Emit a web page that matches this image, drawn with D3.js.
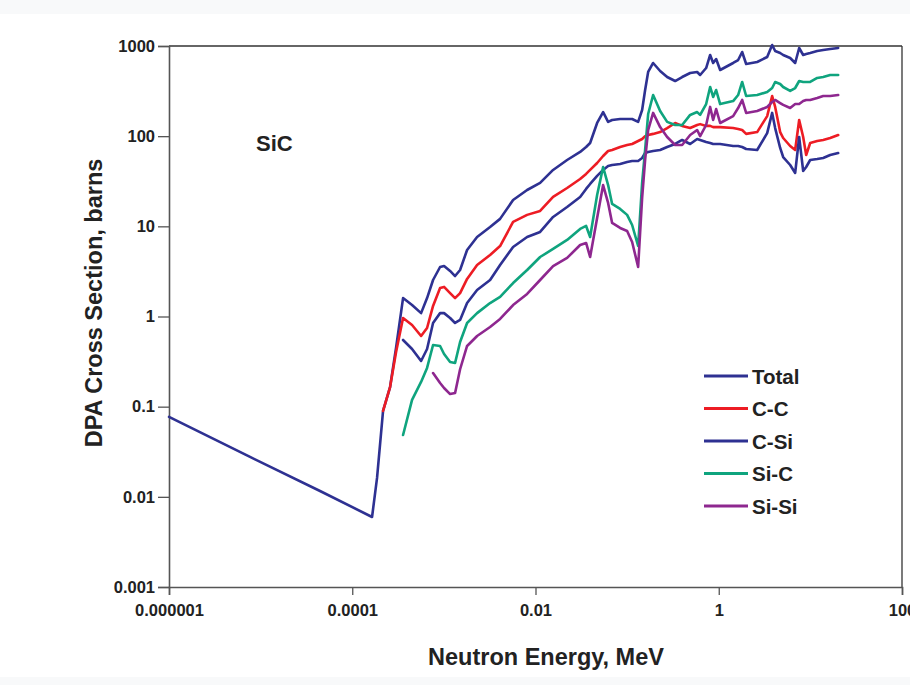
<!DOCTYPE html>
<html>
<head>
<meta charset="utf-8">
<script src="https://cdn.jsdelivr.net/npm/d3@7"></script>
<style>
  body { margin: 0; background: #fff; }
  svg { display: block; font-family: "Liberation Sans", Arial, sans-serif; }
</style>
</head>
<body>
<div id="chart"></div>
<script>
// neutron energy grid, MeV
const energy = [1e-6, 7.66e-6, 4.45e-5, 1.645e-4, 1.865e-4, 2.169e-4, 2.587e-4, 3.008e-4, 3.585e-4,
  4.495e-4, 5.64e-4, 6.555e-4, 7.62e-4, 9.09e-4, 1.005e-3, 1.169e-3, 1.325e-3, 1.503e-3,
  1.792e-3, 2.304e-3, 3.195e-3, 4.107e-3, 5.695e-3, 8.1e-3,
  0.01123, 0.01556, 0.02213, 0.0307, 0.03567, 0.03946,
  0.04705, 0.0547, 0.062, 0.06859, 0.0839, 0.1,
  0.1134, 0.1319, 0.1458, 0.1572, 0.1696, 0.1922,
  0.2292, 0.2734, 0.3342, 0.3986, 0.4874, 0.5811,
  0.6264, 0.7286, 0.8055, 0.8688, 0.9367, 1.036,
  1.436, 1.628, 1.801, 1.991, 2.626, 3.376,
  3.828, 4.127, 4.68, 5.048, 6.018, 6.826,
  7.546, 8.345, 9.0, 9.95, 11.87, 13.8, 16.45, 20.11];

// DPA cross sections, barns
const total = [0.0769, 0.0277, 0.0116, 0.00598, 0.0162, 0.0896, 0.165, 0.45, 1.60,
  1.34, 1.09, 1.60, 2.54, 3.54, 3.63, 3.20, 2.81, 3.28,
  5.47, 7.62, 9.83, 12.1, 19.6, 25.3,
  30.3, 42.2, 54.4, 66.8, 75.9, 84.0,
  140, 185, 144, 151, 155, 155,
  155, 144, 195, 325, 515, 648,
  528, 453, 409, 453, 502, 515,
  477, 570, 795, 648, 717, 542,
  648, 699, 858, 632, 665, 755,
  1026, 880, 836, 795, 736, 648,
  950, 795, 815, 836, 880, 903, 926, 950];

const cc = [null, null, null, null, null, 0.0896, 0.165, 0.404, 0.963,
  0.805, 0.608, 0.746, 1.31, 2.07, 2.13, 1.82, 1.60, 1.82,
  2.61, 3.73, 4.81, 6.05, 11.2, 13.4,
  14.8, 21.2, 26.6, 33.5, 38.1, 42.2,
  50.4, 60.3, 68.5, 70.3, 75.9, 79.8,
  81.9, 88.4, 93.0, 100, 103, 106,
  111, 123, 140, 130, 123, 133,
  136, 130, 130, 126, 126, 126,
  123, 120, 117, 106, 111, 167,
  279, 211, 111, 95.4, 77.8, 70.3,
  151, 97.9, 61.8, 84.0, 88.4, 90.7, 95.4, 103];

const csi = [null, null, null, null, null, null, null, null, 0.549,
  0.436, 0.321, 0.436, 0.848, 1.09, 1.09, 0.963, 0.848, 0.915,
  1.41, 1.97, 2.54, 3.73, 5.90, 7.62,
  8.66, 12.7, 16.4, 21.2, 26.0, 29.5,
  36.2, 42.2, 46.7, 47.9, 49.1, 51.7,
  53.1, 53.1, 57.3, 65.1, 66.8, 68.5,
  70.3, 75.9, 81.9, 90.7, 81.9, 93.0,
  90.7, 86.2, 84.0, 81.9, 81.9, 81.9,
  77.8, 77.8, 75.9, 72.1, 70.3, 108,
  181, 123, 74.0, 58.7, 47.9, 39.1,
  97.9, 41.1, 45.5, 54.4, 55.8, 57.3, 61.8, 65.1];

const sic = [null, null, null, null, null, null, null, null, 0.0485,
  0.119, 0.188, 0.269, 0.483, 0.471, 0.384, 0.313, 0.305, 0.522,
  0.848, 1.09, 1.41, 1.65, 2.35, 3.28,
  4.57, 5.61, 7.06, 9.35, 10.1, 7.62,
  22.3, 45.5, 28.7, 17.7, 15.6, 13.4,
  10.35, 6.05, 30.3, 70.3, 176, 286,
  190, 144, 133, 133, 172, 185,
  172, 227, 351, 272, 325, 227,
  245, 286, 399, 279, 286, 309,
  342, 399, 379, 351, 317, 342,
  409, 399, 399, 399, 442, 453, 477, 477];

const sisi = [null, null, null, null, null, null, null, null, null,
  null, null, null, 0.236, 0.183, 0.161, 0.138, 0.142, 0.26,
  0.471, 0.608, 0.765, 0.939, 1.34, 1.78,
  2.54, 3.63, 4.46, 6.21, 6.54, 4.57,
  12.4, 28.7, 18.2, 10.9, 9.59, 8.88,
  6.71, 3.54, 20.6, 54.4, 117, 181,
  126, 97.9, 79.8, 79.8, 103, 117,
  100, 133, 211, 151, 200, 140,
  167, 205, 252, 181, 190, 211,
  239, 252, 233, 222, 205, 227,
  227, 245, 252, 252, 265, 279, 279, 286];

const seriesNames = ["Total", "C-C", "C-Si", "Si-C", "Si-Si"];
const seriesColors = ["#2e3192", "#ed1c24", "#2e3192", "#0fa47e", "#8e278f"];
const seriesValues = [total, cc, csi, sic, sisi];

const xTickValues = [1e-6, 1e-4, 1e-2, 1, 100];
const xTickLabels = ["0.000001", "0.0001", "0.01", "1", "100"];
const yTickValues = [0.001, 0.01, 0.1, 1, 10, 100, 1000];
const yTickLabels = ["0.001", "0.01", "0.1", "1", "10", "100", "1000"];

const width = 910;
const height = 685;

const svg = d3.select("#chart")
  .append("svg")
  .attr("width", width)
  .attr("height", height);

// light bands at top and bottom of the page
svg.append("rect").attr("x", 0).attr("y", 0).attr("width", width).attr("height", 14).attr("fill", "#f8f9fa");
svg.append("rect").attr("x", 0).attr("y", 677).attr("width", width).attr("height", 8).attr("fill", "#f8f9fa");

const x = d3.scaleLog()
  .domain([1e-6, 100])
  .range([169, 902]);

const y = d3.scaleLog()
  .domain([0.001, 1000])
  .range([587, 46]);

// frame
svg.append("line").attr("x1", x(1e-6)).attr("x2", x(100)).attr("y1", y(1000)).attr("y2", y(1000))
  .attr("stroke", "#333").attr("stroke-width", 1.3);
svg.append("line").attr("x1", x(100)).attr("x2", x(100)).attr("y1", y(1000)).attr("y2", y(0.001))
  .attr("stroke", "#333").attr("stroke-width", 1.3);

const xAxis = svg.append("g")
  .attr("transform", `translate(0,${y(0.001)})`)
  .call(d3.axisBottom(x).tickValues(xTickValues).tickFormat((d, i) => xTickLabels[i]).tickSize(8).tickPadding(9));

const yAxis = svg.append("g")
  .attr("transform", `translate(${x(1e-6)},0)`)
  .call(d3.axisLeft(y).tickValues(yTickValues).tickFormat((d, i) => yTickLabels[i]).tickSize(11).tickPadding(3));

[xAxis, yAxis].forEach(g => {
  g.select(".domain").attr("stroke", "#555").attr("stroke-width", 1.6);
  g.selectAll(".tick line").attr("stroke", "#555").attr("stroke-width", 1.3);
  g.selectAll(".tick text")
    .attr("fill", "#222")
    .style("font-size", "16.5px")
    .style("font-weight", "bold");
});

// curves
const line = d3.line()
  .defined(d => d[1] != null)
  .x(d => x(d[0]))
  .y(d => y(d[1]));

seriesValues.forEach((vals, i) => {
  svg.append("path")
    .datum(energy.map((e, j) => [e, vals[j]]))
    .attr("fill", "none")
    .attr("stroke", seriesColors[i])
    .attr("stroke-width", 2.6)
    .attr("stroke-linejoin", "round")
    .attr("stroke-linecap", "round")
    .attr("d", line);
});

// titles
svg.append("text")
  .attr("x", 546)
  .attr("y", 665)
  .attr("text-anchor", "middle")
  .attr("fill", "#222")
  .style("font-size", "23.5px")
  .style("font-weight", "bold")
  .text("Neutron Energy, MeV");

svg.append("text")
  .attr("transform", "translate(102,303) rotate(-90)")
  .attr("text-anchor", "middle")
  .attr("fill", "#222")
  .style("font-size", "23.5px")
  .style("font-weight", "bold")
  .text("DPA Cross Section, barns");

svg.append("text")
  .attr("x", 256)
  .attr("y", 151)
  .attr("fill", "#222")
  .style("font-size", "22px")
  .style("font-weight", "bold")
  .text("SiC");

// legend
const legend = svg.append("g").attr("transform", "translate(704,376)");
seriesNames.forEach((name, i) => {
  const row = legend.append("g").attr("transform", `translate(0,${i * 32.5})`);
  row.append("line")
    .attr("x1", 0).attr("x2", 44)
    .attr("stroke", seriesColors[i])
    .attr("stroke-width", 3);
  row.append("text")
    .attr("x", 48)
    .attr("y", 7.5)
    .attr("fill", "#222")
    .style("font-size", "20.5px")
    .style("font-weight", "bold")
    .text(name);
});
</script>
</body>
</html>
